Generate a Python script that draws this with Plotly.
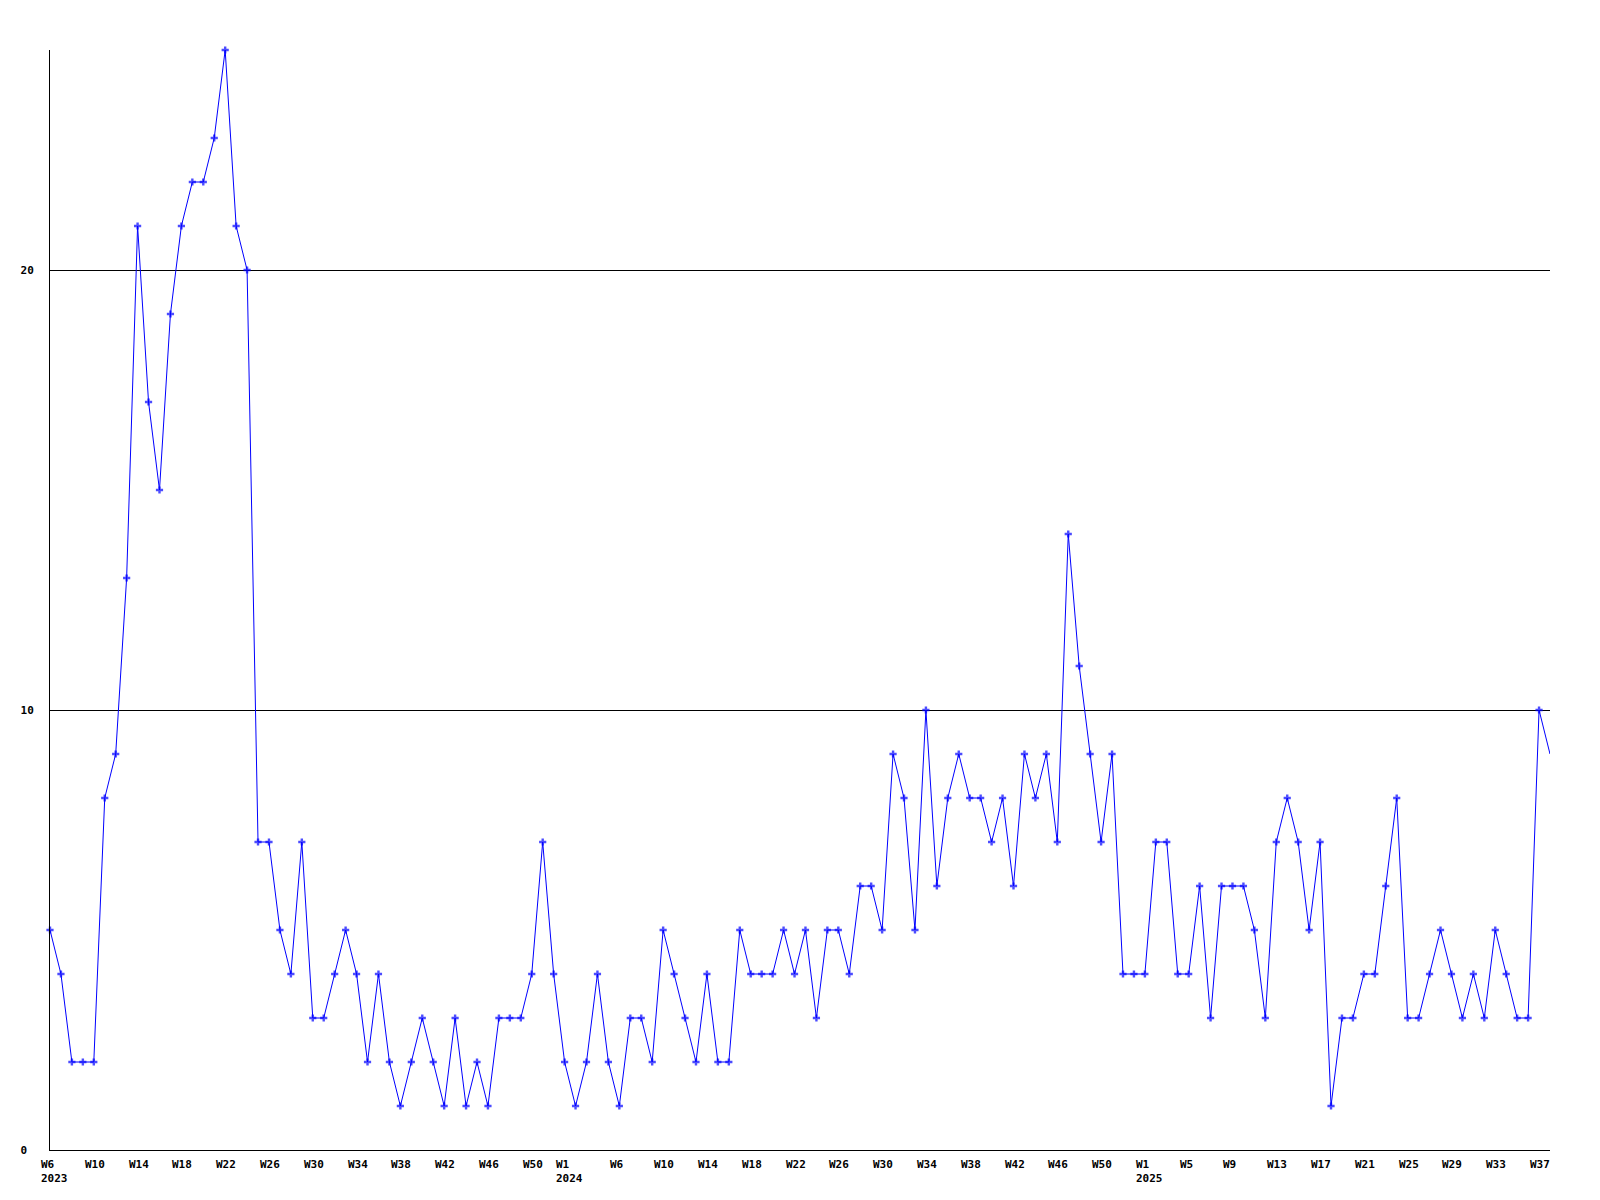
import plotly.graph_objects as go

# weekly counts, one list per year
counts_2023 = [5, 4, 2, 2, 2, 8, 9, 13, 21, 17, 15, 19, 21, 22, 22, 23, 25, 21, 20, 7,
               7, 5, 4, 7, 3, 3, 4, 5, 4, 2, 4, 2, 1, 2, 3, 2, 1, 3, 1, 2,
               1, 3, 3, 3, 4, 7, 4]
counts_2024 = [2, 1, 2, 4, 2, 1, 3, 3, 2, 5, 4, 3, 2, 4, 2, 2, 5, 4, 4, 4,
               5, 4, 5, 3, 5, 5, 4, 6, 6, 5, 9, 8, 5, 10, 6, 8, 9, 8, 8, 7,
               8, 6, 9, 8, 9, 7, 14, 11, 9, 7, 9, 4, 4]
counts_2025 = [4, 7, 7, 4, 4, 6, 3, 6, 6, 6, 5, 3, 7, 8, 7, 5, 7, 1, 3, 3,
               4, 4, 6, 8, 3, 3, 4, 5, 4, 3, 4, 3, 5, 4, 3, 3, 10, 9]

# (year, first week, last week) covered by the series
year_spans = [(2023, 6, 52), (2024, 1, 53), (2025, 1, 38)]
weeks = [f"{y}-W{w:02d}" for y, a, b in year_spans for w in range(a, b + 1)]
counts = counts_2023 + counts_2024 + counts_2025

tick_weeks = ["2023-W06", "2023-W10", "2023-W14", "2023-W18", "2023-W22", "2023-W26",
              "2023-W30", "2023-W34", "2023-W38", "2023-W42", "2023-W46", "2023-W50",
              "2024-W01", "2024-W06", "2024-W10", "2024-W14", "2024-W18", "2024-W22",
              "2024-W26", "2024-W30", "2024-W34", "2024-W38", "2024-W42", "2024-W46",
              "2024-W50", "2025-W01", "2025-W05", "2025-W09", "2025-W13", "2025-W17",
              "2025-W21", "2025-W25", "2025-W29", "2025-W33", "2025-W37"]
tick_text = ["W6<br>2023", "W10", "W14", "W18", "W22", "W26", "W30", "W34", "W38",
             "W42", "W46", "W50", "W1<br>2024", "W6", "W10", "W14", "W18", "W22",
             "W26", "W30", "W34", "W38", "W42", "W46", "W50", "W1<br>2025", "W5",
             "W9", "W13", "W17", "W21", "W25", "W29", "W33", "W37"]

y_ticks = [0, 10, 20]
y_tick_text = ["0\u00a0", "10", "20"]  # labels sit left-aligned in the original

FONT = dict(family="DejaVu Sans Mono", size=11, color="black", weight="bold")
BLUE = "#0000ff"

fig = go.Figure()
fig.add_trace(go.Scatter(
    x=weeks,
    y=counts,
    mode="lines+markers",
    line=dict(color=BLUE, width=1),
    marker=dict(symbol="cross", size=[6] * (len(counts) - 1) + [0], color=BLUE, line=dict(width=0)),
    cliponaxis=False,
    showlegend=False,
))

for wk, txt in zip(tick_weeks, tick_text):
    fig.add_annotation(
        x=wk, y=0, xref="x", yref="paper",
        text=txt, showarrow=False,
        xanchor="left", yanchor="top", align="left",
        xshift=-11, yshift=-6,
        font=FONT,
    )

fig.update_layout(
    width=1600,
    height=1200,
    margin=dict(l=50, r=50, t=50, b=50),
    paper_bgcolor="white",
    plot_bgcolor="white",
    xaxis=dict(
        type="category",
        range=[0, len(counts) - 1],
        showticklabels=False,
        showgrid=False,
        zeroline=False,
        showline=True,
        linecolor="black",
        linewidth=1,
        ticks="",
    ),
    yaxis=dict(
        range=[0, 25],
        tickvals=y_ticks,
        ticktext=y_tick_text,
        showgrid=True,
        gridcolor="black",
        gridwidth=1,
        zeroline=False,
        showline=True,
        linecolor="black",
        linewidth=1,
        ticks="",
        ticklabelstandoff=13,
        tickfont=FONT,
    ),
)

fig.write_html("out.html", config={"displayModeBar": False},
               post_script="document.body.style.margin='0';")
